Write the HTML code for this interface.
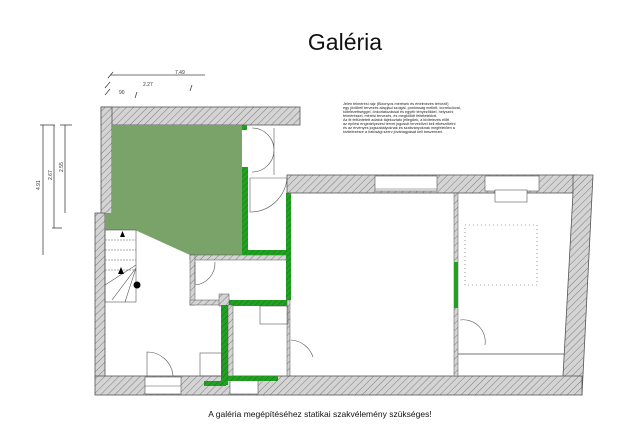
<!DOCTYPE html>
<html><head><meta charset="utf-8"><style>
body{margin:0;background:#fff}
svg{display:block}
text{font-family:"Liberation Sans",sans-serif}
</style></head><body>
<svg width="640" height="438" viewBox="0 0 640 438" xmlns="http://www.w3.org/2000/svg">
<defs>
<pattern id="h" width="5" height="5" patternUnits="userSpaceOnUse" patternTransform="rotate(45)">
<rect width="5" height="5" fill="#d4d4d4"/><line x1="0" y1="0" x2="0" y2="5" stroke="#666" stroke-width="0.8"/>
</pattern>
<pattern id="g" width="4" height="4" patternUnits="userSpaceOnUse" patternTransform="rotate(45)">
<rect width="4" height="4" fill="#22a022"/><line x1="0" y1="0" x2="0" y2="4" stroke="#0d6d0d" stroke-width="0.8"/>
</pattern>
</defs>
<text x="345" y="50" font-size="23" text-anchor="middle" fill="#111">Galéria</text>

<g stroke="#444" stroke-width="0.8" fill="none">
<line x1="110" y1="75" x2="205" y2="75"/><line x1="108" y1="78" x2="113" y2="72"/>
<line x1="105" y1="88" x2="110" y2="82"/><line x1="105" y1="95" x2="110" y2="89"/>
<line x1="135" y1="98" x2="137" y2="92"/><line x1="190" y1="91" x2="192" y2="85"/>
<line x1="43" y1="125" x2="43" y2="255"/><line x1="40" y1="125" x2="55" y2="125"/>
<line x1="54" y1="125" x2="54" y2="228"/><line x1="52" y1="228" x2="62" y2="228"/>
<line x1="65" y1="125" x2="65" y2="213"/><line x1="60" y1="125" x2="72" y2="125"/>
</g>
<g font-size="5" fill="#333">
<text x="175" y="74">7.49</text><text x="143" y="86">2.27</text><text x="119" y="94">90</text>
<text x="40" y="190" transform="rotate(-90 40 190)">4.91</text>
<text x="52" y="180" transform="rotate(-90 52 180)">2.67</text>
<text x="63" y="172" transform="rotate(-90 63 172)">2.55</text>
</g>

<rect x="101" y="107" width="199" height="18" fill="url(#h)" stroke="#555" stroke-width="0.8"/>
<rect x="101" y="107" width="11" height="108" fill="url(#h)" stroke="#555" stroke-width="0.8"/>
<rect x="95" y="213" width="10" height="165" fill="url(#h)" stroke="#555" stroke-width="0.8"/>
<rect x="287" y="175" width="290" height="18" fill="url(#h)" stroke="#555" stroke-width="0.8"/>
<polygon points="573,175 593,175 582,395 563,376 573,193" fill="url(#h)" stroke="#555" stroke-width="0.8"/>
<rect x="95" y="376" width="487" height="19" fill="url(#h)" stroke="#555" stroke-width="0.8"/>
<rect x="145" y="377" width="36" height="17" fill="#fff" stroke="#555" stroke-width="0.6"/>
<line x1="145" y1="386" x2="181" y2="386" stroke="#555" stroke-width="0.6"/>
<rect x="230" y="377" width="28" height="17" fill="#fff" stroke="#555" stroke-width="0.6"/>
<rect x="375" y="176" width="62" height="15" fill="#fff" stroke="#555" stroke-width="0.6"/>
<line x1="375" y1="189" x2="437" y2="189" stroke="#555" stroke-width="0.6"/>
<rect x="485" y="176" width="54" height="15" fill="#fff" stroke="#555" stroke-width="0.6"/>
<rect x="495" y="190" width="32" height="12" fill="#fff" stroke="#555" stroke-width="0.6"/>

<polygon points="112,125 242,125 242,255 190,255 135,230 105,230 105,213 112,213" fill="#7aa36a"/>
<g stroke="#555" stroke-width="0.6" fill="none">
<rect x="105" y="230" width="31" height="72"/>
<line x1="105" y1="240" x2="136" y2="240" stroke-dasharray="2,1"/>
<line x1="105" y1="250" x2="136" y2="250" stroke-dasharray="2,1"/>
<line x1="105" y1="260" x2="136" y2="260" stroke-dasharray="2,1"/>
<line x1="105" y1="270" x2="136" y2="270" stroke-dasharray="2,1"/>
<line x1="136" y1="265" x2="105" y2="285"/><line x1="136" y1="268" x2="112" y2="300"/><line x1="136" y1="268" x2="125" y2="302"/>
</g>
<polygon points="120,237 125,237 122.5,231" fill="#000"/>
<polygon points="118,274 124,274 121,267" fill="#000"/>
<circle cx="137" cy="285" r="3.5" fill="#000"/>

<rect x="190" y="255" width="100" height="5" fill="url(#h)" stroke="#555" stroke-width="0.5"/>
<rect x="190" y="255" width="5" height="50" fill="url(#h)" stroke="#555" stroke-width="0.5"/>
<rect x="190" y="300" width="40" height="5" fill="url(#h)" stroke="#555" stroke-width="0.5"/>
<rect x="229" y="300" width="60" height="6" fill="url(#g)"/>
<rect x="219" y="294" width="10" height="12" fill="url(#h)" stroke="#555" stroke-width="0.5"/>
<rect x="221" y="305" width="7" height="80" fill="url(#g)"/>
<rect x="228" y="305" width="5" height="71" fill="url(#h)" stroke="#555" stroke-width="0.5"/>
<rect x="204" y="381" width="22" height="5" fill="url(#g)"/>
<rect x="228" y="376" width="50" height="5" fill="url(#g)"/>
<rect x="242" y="167" width="6" height="88" fill="url(#g)"/>
<rect x="242" y="250" width="48" height="5" fill="url(#g)"/>
<rect x="242" y="125" width="5" height="5" fill="url(#g)"/>
<rect x="286" y="193" width="5" height="107" fill="url(#g)"/>
<rect x="287" y="300" width="3" height="76" fill="url(#h)" stroke="#555" stroke-width="0.5"/>
<rect x="454" y="193" width="4" height="183" fill="url(#h)" stroke="#555" stroke-width="0.5"/>
<rect x="454" y="262" width="4" height="46" fill="#22a022"/>
<line x1="458" y1="354" x2="564" y2="354" stroke="#444" stroke-width="0.8"/>

<g stroke="#555" stroke-width="0.6" fill="none">
<path d="M274,128 L274,175 M274,150 A22,22 0 0 0 252,128 M274,150 A22,22 0 0 1 252,172"/>
<path d="M250,178 L287,178 M250,178 L250,212 A37,37 0 0 0 287,178"/>
<path d="M195,262 L195,285 A22,22 0 0 0 215,262"/>
<path d="M147,376 L147,352 A26,26 0 0 1 173,376"/>
<rect x="260" y="306" width="28" height="18"/>
<rect x="200" y="353" width="22" height="23"/>
<path d="M291,340 A25,25 0 0 1 313,357"/>
<path d="M460,320 A22,22 0 0 1 485,345"/>
<rect x="465" y="225" width="72" height="60" stroke-dasharray="1,3"/>
</g>

<g font-size="3.8" fill="#222">
<text x="343" y="105">Jelen felmérési rajz (Bizonyos mérések és értelmezés tervező)</text>
<text x="343" y="109">egy jövőbeli tervezés alapjául szolgál, pontosság mellett, korrekcióval,</text>
<text x="343" y="113">kötelezettséggel, önkorlátozással és egyéb tényezőkkel, helyszíni</text>
<text x="343" y="117">felméréssel, mérési tervezés, és megkötött feltételekkel.</text>
<text x="343" y="121">Az itt feltüntetett adatok tájékoztató jellegűek, a kivitelezés előtt</text>
<text x="343" y="125">az építési engedélyezési tervet jogosult tervezővel kell elkészíttetni</text>
<text x="343" y="129">és az érvényes jogszabályoknak és szabványoknak megfelelően a</text>
<text x="343" y="133">kivitelezésre a hatósági szerv jóváhagyását kell beszerezni.</text>
</g>

<text x="320" y="417" font-size="8.5" text-anchor="middle" fill="#111">A galéria megépítéséhez statikai szakvélemény szükséges!</text>
</svg>
</body></html>
